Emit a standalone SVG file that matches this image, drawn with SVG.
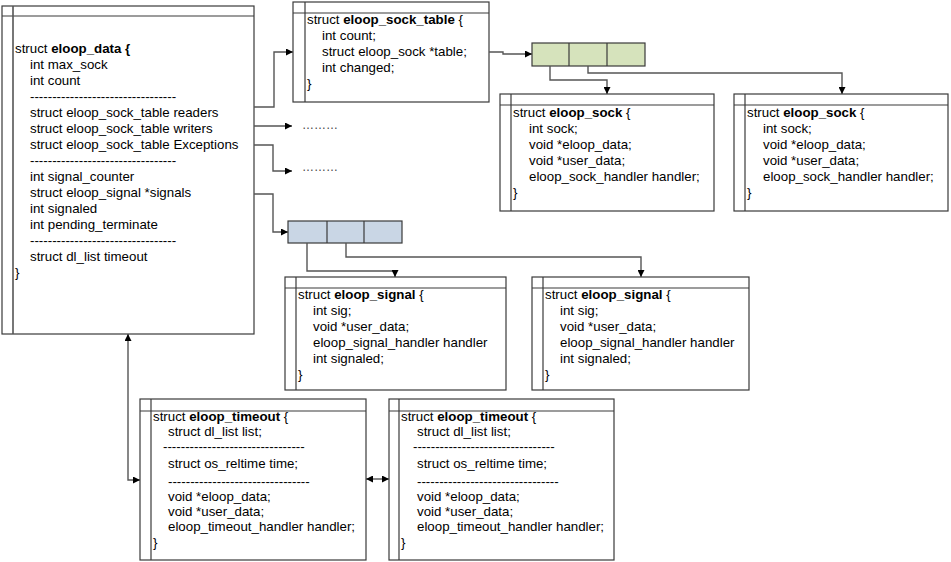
<svg xmlns="http://www.w3.org/2000/svg" width="951" height="562" viewBox="0 0 951 562">
  <style>
    text { font-family: "Liberation Sans", Arial, sans-serif; font-size: 13.3px; fill: #000; }
    .b { font-weight: bold; }
    .frame { fill: #fff; stroke: #3a3a3a; stroke-width: 1.2; }
    .div { stroke: #3a3a3a; stroke-width: 1.2; fill: none; }
    .inner { stroke: #555; stroke-width: 1.6; fill: none; }
    .link { fill: none; stroke: #555; stroke-width: 1.4; }
    .green { fill: #d6e3bc; stroke: #3a3a3a; stroke-width: 1.2; }
    .blue { fill: #c9d6e5; stroke: #3a3a3a; stroke-width: 1.2; }
    text.dots { font-size: 12px; fill: #444; }
  </style>
  <defs>
    <marker id="arrow" viewBox="0 0 7 7" refX="7" refY="3.5" markerWidth="7" markerHeight="7" markerUnits="userSpaceOnUse" orient="auto-start-reverse">
      <path d="M0,0 L7,3.5 L0,7 z" fill="#000"/>
    </marker>
  </defs>

  <!-- struct eloop_data -->
  <g id="eloop_data">
    <rect class="frame" x="2" y="6" width="252" height="328"/>
    <line class="div" x1="2" y1="16" x2="254" y2="16"/>
    <line class="inner" x1="13" y1="6" x2="13" y2="334"/>
    <text x="15" y="53">struct <tspan class="b">eloop_data {</tspan></text>
    <text x="30" y="69">int max_sock</text>
    <text x="30" y="85">int count</text>
    <text x="30" y="101">---------------------------------</text>
    <text x="30" y="117">struct eloop_sock_table readers</text>
    <text x="30" y="133">struct eloop_sock_table writers</text>
    <text x="30" y="149">struct eloop_sock_table Exceptions</text>
    <text x="30" y="165">---------------------------------</text>
    <text x="30" y="181">int signal_counter</text>
    <text x="30" y="197">struct eloop_signal *signals</text>
    <text x="30" y="213">int signaled</text>
    <text x="30" y="229">int pending_terminate</text>
    <text x="30" y="245">---------------------------------</text>
    <text x="30" y="261">struct dl_list timeout</text>
    <text x="15" y="277">}</text>
  </g>

  <!-- struct eloop_sock_table -->
  <g id="eloop_sock_table">
    <rect class="frame" x="293" y="2" width="196" height="100"/>
    <line class="div" x1="293" y1="13" x2="489" y2="13"/>
    <line class="div" x1="305" y1="2" x2="305" y2="102"/>
    <text x="307" y="24">struct <tspan class="b">eloop_sock_table</tspan> {</text>
    <text x="322" y="40">int count;</text>
    <text x="322" y="56">struct eloop_sock *table;</text>
    <text x="322" y="72">int changed;</text>
    <text x="307" y="88">}</text>
  </g>

  <!-- socket array -->
  <g id="sock_array">
    <rect class="green" x="532" y="43" width="113" height="23"/>
    <line class="div" x1="569" y1="43" x2="569" y2="66"/>
    <line class="div" x1="607" y1="43" x2="607" y2="66"/>
  </g>

  <!-- struct eloop_sock (1) -->
  <g id="eloop_sock_1">
    <rect class="frame" x="500" y="94" width="214" height="117"/>
    <line class="div" x1="500" y1="105" x2="714" y2="105"/>
    <line class="div" x1="511" y1="94" x2="511" y2="211"/>
    <text x="513" y="117">struct <tspan class="b">eloop_sock</tspan> {</text>
    <text x="529" y="133">int sock;</text>
    <text x="529" y="149">void *eloop_data;</text>
    <text x="529" y="165">void *user_data;</text>
    <text x="529" y="181">eloop_sock_handler handler;</text>
    <text x="513" y="197">}</text>
  </g>

  <!-- struct eloop_sock (2) -->
  <g id="eloop_sock_2">
    <rect class="frame" x="734" y="94" width="214" height="117"/>
    <line class="div" x1="734" y1="105" x2="948" y2="105"/>
    <line class="div" x1="745" y1="94" x2="745" y2="211"/>
    <text x="747" y="117">struct <tspan class="b">eloop_sock</tspan> {</text>
    <text x="763" y="133">int sock;</text>
    <text x="763" y="149">void *eloop_data;</text>
    <text x="763" y="165">void *user_data;</text>
    <text x="763" y="181">eloop_sock_handler handler;</text>
    <text x="747" y="197">}</text>
  </g>

  <!-- signal array -->
  <g id="signal_array">
    <rect class="blue" x="288" y="221" width="114" height="22"/>
    <line class="div" x1="327" y1="221" x2="327" y2="243"/>
    <line class="div" x1="364" y1="221" x2="364" y2="243"/>
  </g>

  <!-- struct eloop_signal (1) -->
  <g id="eloop_signal_1">
    <rect class="frame" x="285" y="277" width="221" height="113"/>
    <line class="div" x1="285" y1="288" x2="506" y2="288"/>
    <line class="div" x1="296" y1="277" x2="296" y2="390"/>
    <text x="298" y="299">struct <tspan class="b">eloop_signal</tspan> {</text>
    <text x="313" y="315">int sig;</text>
    <text x="313" y="331">void *user_data;</text>
    <text x="313" y="347">eloop_signal_handler handler</text>
    <text x="313" y="363">int signaled;</text>
    <text x="298" y="379">}</text>
  </g>

  <!-- struct eloop_signal (2) -->
  <g id="eloop_signal_2">
    <rect class="frame" x="532" y="277" width="217" height="113"/>
    <line class="div" x1="532" y1="288" x2="749" y2="288"/>
    <line class="div" x1="543" y1="277" x2="543" y2="390"/>
    <text x="545" y="299">struct <tspan class="b">eloop_signal</tspan> {</text>
    <text x="560" y="315">int sig;</text>
    <text x="560" y="331">void *user_data;</text>
    <text x="560" y="347">eloop_signal_handler handler</text>
    <text x="560" y="363">int signaled;</text>
    <text x="545" y="379">}</text>
  </g>

  <!-- struct eloop_timeout (1) -->
  <g id="eloop_timeout_1">
    <rect class="frame" x="140" y="399" width="226" height="161"/>
    <line class="div" x1="140" y1="411" x2="366" y2="411"/>
    <line class="div" x1="151" y1="399" x2="151" y2="560"/>
    <text x="153" y="421">struct <tspan class="b">eloop_timeout</tspan> {</text>
    <text x="168" y="436">struct dl_list list;</text>
    <text x="163" y="451">--------------------------------</text>
    <text x="168" y="468">struct os_reltime time;</text>
    <text x="168" y="486">--------------------------------</text>
    <text x="168" y="501">void *eloop_data;</text>
    <text x="168" y="516">void *user_data;</text>
    <text x="168" y="531">eloop_timeout_handler handler;</text>
    <text x="153" y="547">}</text>
  </g>

  <!-- struct eloop_timeout (2) -->
  <g id="eloop_timeout_2">
    <rect class="frame" x="389" y="399" width="225" height="161"/>
    <line class="div" x1="389" y1="411" x2="614" y2="411"/>
    <line class="div" x1="399" y1="399" x2="399" y2="560"/>
    <text x="401" y="421">struct <tspan class="b">eloop_timeout</tspan> {</text>
    <text x="417" y="436">struct dl_list list;</text>
    <text x="413" y="451">--------------------------------</text>
    <text x="417" y="468">struct os_reltime time;</text>
    <text x="417" y="486">--------------------------------</text>
    <text x="417" y="501">void *eloop_data;</text>
    <text x="417" y="516">void *user_data;</text>
    <text x="417" y="531">eloop_timeout_handler handler;</text>
    <text x="401" y="547">}</text>
  </g>

  <!-- elided targets of writers / exceptions -->
  <g id="writers_more"><text class="dots" x="302" y="129">………</text></g>
  <g id="exceptions_more"><text class="dots" x="302" y="171">………</text></g>

  <!-- connectors -->
  <g id="connectors">
    <path class="link" d="M254,107 H274 V52 H293" marker-end="url(#arrow)"/>
    <path class="link" d="M254,126 H292" marker-end="url(#arrow)"/>
    <path class="link" d="M254,145 H273 V171 H292" marker-end="url(#arrow)"/>
    <path class="link" d="M254,194 H273 V232 H288" marker-end="url(#arrow)"/>
    <path class="link" d="M489,52 H503 V54 H532" marker-end="url(#arrow)"/>
    <path class="link" d="M550,66 V80 H607 V94" marker-end="url(#arrow)"/>
    <path class="link" d="M588,66 V73 H842 V94" marker-end="url(#arrow)"/>
    <path class="link" d="M307,243 V271 H395 V277" marker-end="url(#arrow)"/>
    <path class="link" d="M346,243 V257 H641 V277" marker-end="url(#arrow)"/>
    <path class="link" d="M128,334 V480 H140" marker-start="url(#arrow)" marker-end="url(#arrow)"/>
    <path class="link" d="M366,479 H389" marker-start="url(#arrow)" marker-end="url(#arrow)"/>
  </g>
</svg>
